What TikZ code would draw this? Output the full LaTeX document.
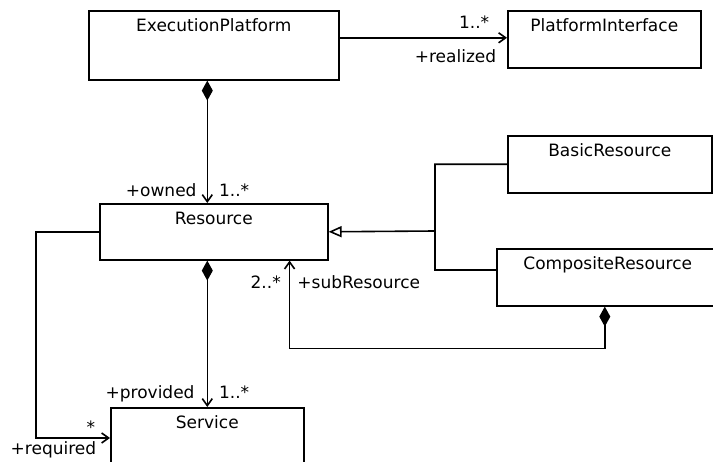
\documentclass[tikz,border=0pt]{standalone}
\usepackage{fontspec}
\setmainfont{DejaVu Sans}
\usetikzlibrary{arrows.meta}
\begin{document}
\begin{tikzpicture}[x=1pt, y=-1pt, line width=1.6pt,
  font=\fontsize{17}{20}\selectfont,
  umlclass/.style={draw, rectangle, anchor=north west, inner sep=0pt},
  assoc/.style={-{Straight Barb[length=7pt,width=10pt]}},
  comp/.style={{Diamond[length=20pt,width=11pt]}-{Straight Barb[length=7pt,width=10pt]}},
  gen/.style={-{Triangle[open,length=13pt,width=11pt]}},
  role/.style={inner sep=0pt}]
\clip (0,0) rectangle (713,462);
\fill[white] (0,0) rectangle (713,462);
% classes
\node[umlclass, minimum width=250pt, minimum height=69pt, label={[anchor=base,yshift=-22pt]north:ExecutionPlatform}] (ep) at (88,10) {};
\node[umlclass, minimum width=193pt, minimum height=57pt, label={[anchor=base,yshift=-22pt]north:PlatformInterface}] (pi) at (507,10) {};
\node[umlclass, minimum width=204pt, minimum height=57pt, label={[anchor=base,yshift=-22pt]north:BasicResource}] (br) at (507,135) {};
\node[umlclass, minimum width=228pt, minimum height=56pt, label={[anchor=base,yshift=-22pt]north:Resource}] (res) at (99,203) {};
\node[umlclass, minimum width=222pt, minimum height=57pt, label={[anchor=base,yshift=-22pt]north:CompositeResource}] (cr) at (496,248) {};
\node[umlclass, minimum width=193pt, minimum height=80pt, label={[anchor=base,yshift=-22pt]north:Service}] (svc) at (110,407) {};
\coordinate (fork) at (435,231);
% associations
\draw[assoc] ([yshift=1.5pt]ep.east |- pi.west) --
  node[role, pos=1, anchor=base east, xshift=-17pt, yshift=9pt] {1..*}
  node[role, pos=1, anchor=base east, xshift=-10pt, yshift=-25pt] {+realized} ([yshift=1.5pt]pi.west);
\draw[comp] (ep.south -| svc.north) --
  node[role, pos=1, anchor=base east, xshift=-10pt, yshift=6pt] {+owned}
  node[role, pos=1, anchor=base west, xshift=11pt, yshift=6pt] {1..*} (res.north -| svc.north);
\draw[comp] (res.south -| svc.north) --
  node[role, pos=1, anchor=base east, xshift=-12pt, yshift=8pt] {+provided}
  node[role, pos=1, anchor=base west, xshift=11pt, yshift=8pt] {1..*} (svc.north);
\draw[assoc] (res.west) -- ++(-63,0) |-
  node[role, pos=1, anchor=base east, xshift=-14pt, yshift=4pt] {*}
  node[role, pos=1, anchor=base east, xshift=-13pt, yshift=-17pt] {+required} ([yshift=-31pt]svc.north west);
\draw[comp] ([xshift=-3pt]cr.south) -- ++(0,42) -|
  node[role, pos=1, anchor=base east, xshift=-8pt, yshift=-28pt] {2..*}
  node[role, pos=1, anchor=base west, xshift=7pt, yshift=-28pt] {+subResource} ([xshift=-39pt]res.south east);
% generalization
\draw[gen] (br.west) -| (fork) -- (res.east);
\draw ([yshift=7.5pt]cr.west) -| (fork);
\end{tikzpicture}
\end{document}
